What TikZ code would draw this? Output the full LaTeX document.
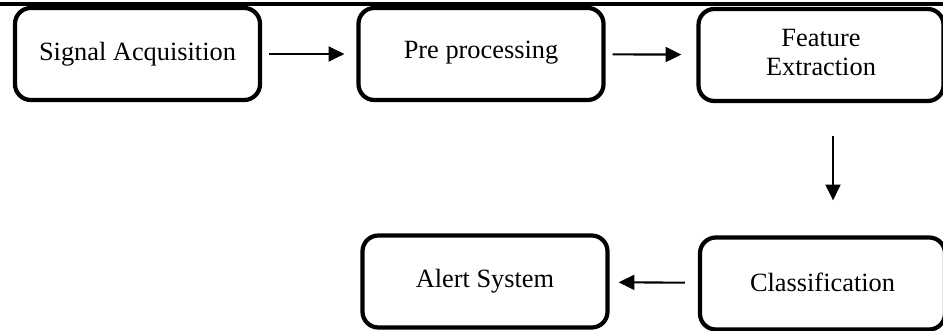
\documentclass[tikz,border=0pt]{standalone}
\usepackage{fontspec}
\setmainfont{Liberation Serif}
\usepackage{tikz}
\usetikzlibrary{arrows.meta,positioning}

\begin{document}
\begin{tikzpicture}[
    box/.style={draw, line width=2.4pt, rounded corners=9pt, minimum width=4.9cm,
                minimum height=1.84cm, align=center, font=\fontsize{15}{17}\selectfont},
    arr/.style={-{Triangle[length=9pt,width=8.5pt]}, line width=1.2pt}
  ]
    \useasboundingbox (0,0) rectangle (18.86,-6.62);
    \draw[line width=2.6pt] (0,-0.08) -- (18.86,-0.08);

    \node[box] (acq)  at (2.75,-1.08)  {\raisebox{-4pt}{Signal Acquisition}};
    \node[box] (pre)  at (9.62,-1.08)  {\raisebox{5pt}{Pre processing}};
    \node[box] (feat) at (16.42,-1.10) {\raisebox{3pt}{\begin{tabular}{@{}c@{}}Feature\\Extraction\end{tabular}}};
    \node[box] (cls)  at (16.45,-5.67) {\raisebox{2pt}{Classification}};
    \node[box] (alert)at (9.70,-5.63)  {Alert System};

    \draw[arr, shorten <=0.14cm, shorten >=0.24cm] (acq) -- (pre);
    \draw[arr, shorten <=0.14cm, shorten >=0.30cm] (pre) -- (feat);
    \draw[arr, shorten <=0.66cm, shorten >=0.70cm]
         ([xshift=0.24cm]feat.south) -- ([xshift=0.21cm]cls.north);
    \draw[arr, shorten <=0.26cm, shorten >=0.18cm] (cls) -- (alert);
  \end{tikzpicture}
\end{document}
